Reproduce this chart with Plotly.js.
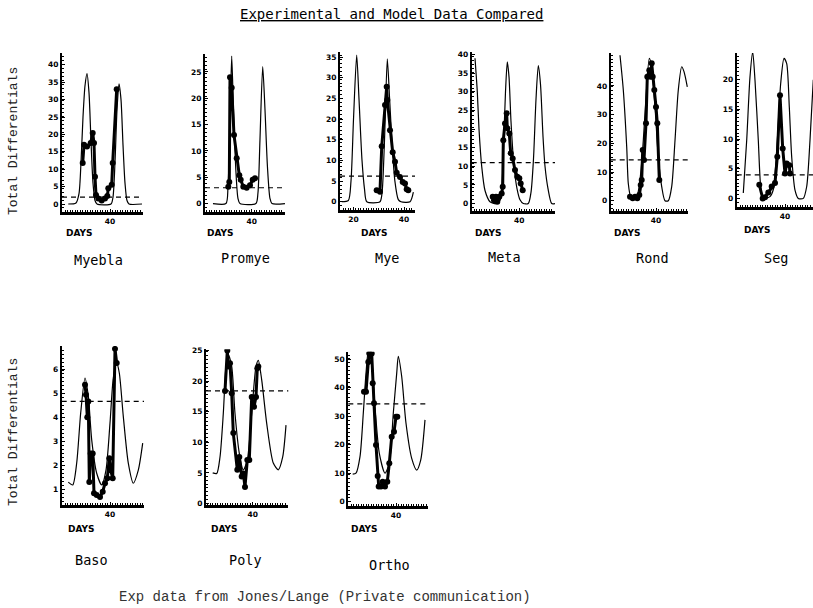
<!DOCTYPE html>
<html>
<head>
<meta charset="utf-8">
<script src="https://cdn.plot.ly/plotly-3.0.1.min.js"></script>
<style>html,body{margin:0;padding:0;background:#fff;}#chart{width:813px;height:608px;}</style>
</head>
<body>
<div id="chart"></div>
<script>
// ---------- DATA (days, value) ----------
const panelNames = ["Myebla", "Promye", "Mye", "Meta", "Rond", "Seg", "Baso", "Poly", "Ortho"];
const thresholds = [2.0, 3.0, 6.2, 11.0, 14.2, 3.95, 4.68, 18.4, 34.3];

const myeblaModelX = [23.3, 26.4, 27.6, 28.4, 29.2, 30.0, 30.8, 31.6, 32.4, 33.2, 34.0, 34.8, 40.4, 41.2, 42.0, 42.8, 43.6, 44.4, 45.2, 46.0, 46.8, 47.6, 52.8];
const myeblaModelY = [0, 0.3, 3, 12, 25, 34, 37.5, 32, 18, 6, 1, 0, 0, 2, 12, 27, 34.5, 30, 17, 6, 1, 0, 0];
const myeblaDataX = [29.08, 29.6, 30.8, 32.28, 33.08, 33.6, 34.0, 34.4, 35.32, 36.68, 38.0, 38.92, 39.32, 40.68, 41.08, 42.68];
const myeblaDataY = [11.8, 17, 16.5, 17.5, 20.4, 17.5, 7.8, 2.6, 1.6, 1, 1.6, 2.3, 4.5, 5.5, 11.8, 33];

const promyeModelX = [24.5, 29.7, 30.5, 31.3, 32.0, 32.7, 33.7, 34.5, 35.3, 41.7, 42.5, 43.3, 44.4, 45.3, 46.3, 47.3, 48.1, 53.3];
const promyeModelY = [0, 0, 3, 15, 28, 18, 6, 1, 0, 0, 2, 12, 26, 18, 7, 1, 0, 0];
const promyeDataX = [30.64, 31.04, 31.32, 32.0, 32.92, 34.0, 35.04, 35.6, 36.64, 38.0, 39.32, 40.4, 41.32];
const promyeDataY = [3.2, 4.1, 24, 22, 13, 8.6, 5.4, 4.5, 3.2, 3, 3.5, 4.5, 4.8];

const myeModelX = [15.4, 18.0, 19.05, 20.04, 21.3, 22.2, 23.4, 24.4, 25.3, 30.5, 31.3, 32.3, 33.4, 34.3, 35.3, 36.4, 37.75, 38.8, 42.4, 43.7];
const myeModelY = [0, 0.3, 5, 20, 35.5, 25, 10, 3, 0, 0, 2, 15, 34.6, 25, 14, 5, 0.5, 0, 0, 2.3];
const myeDataX = [29.2, 30.5, 31.2, 32.5, 33.16, 33.4, 34.47, 35.53, 36.44, 37.11, 38.42, 39.49, 40.4, 41.07, 41.7];
const myeDataY = [2.8, 2.4, 13.4, 23.4, 27.8, 24.6, 17.3, 12, 9.7, 7, 6, 4.8, 4.4, 3, 2.8];

const metaModelX = [22.28, 23.2, 23.88, 24.96, 26.28, 28.28, 30.68, 32.28, 33.08, 33.68, 34.48, 35.2, 35.88, 36.68, 37.88, 39.08, 40.28, 41.6, 43.6, 44.68, 45.68, 46.68, 47.6, 48.48, 49.48, 50.28, 51.48, 52.96, 54.28];
const metaModelY = [39, 30, 20, 10, 3.5, 0.5, 0, 0.8, 5, 15, 30, 38, 34, 22, 10, 4, 1, 0, 0, 3, 12, 28, 37, 32, 18, 10, 4, 0, 0];
const metaDataX = [29.36, 29.88, 30.68, 31.2, 32.0, 32.96, 33.36, 33.6, 34.28, 34.96, 35.2, 36.0, 36.56, 37.36, 38.28, 39.2, 40.0, 40.56, 41.36];
const metaDataY = [1.8, 0.9, 1.8, 0.5, 1.8, 2.7, 4.5, 17, 21.5, 24.2, 20.2, 18.8, 13.5, 12.1, 9, 7.2, 6.8, 5.4, 3.6];

const rondModelX = [25.6, 26.92, 28.28, 28.92, 29.88, 30.92, 32.52, 33.88, 34.92, 36.0, 37.32, 38.28, 39.6, 40.92, 42.28, 43.6, 44.92, 46.28, 47.6, 48.92, 50.28, 51.2, 52.52];
const rondModelY = [50.7, 38.6, 18.8, 6, 1.4, 0.8, 2, 9.5, 21, 36, 49.6, 46.7, 32.7, 15.3, 4.9, 0, 0, 4.9, 21, 38.6, 46.7, 45, 39.7];
const rondDataX = [29.6, 30.68, 31.6, 32.52, 33.32, 33.88, 34.28, 34.68, 35.2, 36.0, 36.52, 37.32, 37.88, 38.28, 38.68, 39.32, 40.0, 40.52, 41.32];
const rondDataY = [1.4, 0.8, 1.4, 0.8, 2, 5.5, 7.2, 17.7, 14.2, 27, 43.2, 45.5, 43.2, 47.9, 43.2, 38.6, 32.7, 27, 7.2];

const segModelX = [23.32, 24.68, 26.0, 27.08, 28.0, 29.32, 30.28, 31.32, 34.0, 35.32, 36.92, 38.28, 39.6, 40.68, 41.72, 42.68, 44.0, 45.32, 47.32, 48.68, 50.0, 51.32];
const segModelY = [0.9, 9.8, 20.5, 24.7, 19.9, 9.8, 2, 0, 0.3, 1.5, 9.8, 19.4, 23.6, 22.7, 15.4, 7, 1.4, 0, 0, 2, 9.8, 20];
const segDataX = [29.72, 31.08, 32.0, 33.32, 34.68, 36.0, 36.92, 38.0, 39.08, 40.0, 40.68, 41.72, 42.0];
const segDataY = [2.3, 0, 0.2, 1, 2, 2.6, 7, 17.4, 8.4, 4.2, 5.9, 5.6, 4.2];

const basoModelX = [23.32, 25.08, 26.68, 28.28, 30.0, 31.32, 32.68, 34.68, 36.68, 38.4, 40.0, 41.32, 42.68, 43.72, 45.32, 47.32, 49.32, 51.32, 53.08];
const basoModelY = [1.3, 1.18, 2.1, 4.2, 5.66, 4.9, 3.07, 1.67, 1.18, 1.8, 3.77, 5.66, 6.29, 5.87, 4.05, 2.09, 1.25, 1.8, 2.93];
const basoDataX = [30.0, 30.4, 30.92, 31.32, 31.72, 32.28, 33.08, 33.6, 34.68, 36.0, 37.08, 38.0, 38.92, 39.72, 40.28, 41.08, 42.0, 42.68];
const basoDataY = [5.38, 4.96, 4.02, 4.68, 1.3, 2.5, 2.5, 0.83, 0.76, 0.68, 0.9, 1.25, 1.46, 2.3, 1.8, 1.46, 6.88, 6.29];

const polyModelX = [24.0, 25.6, 26.92, 28.24, 29.32, 30.24, 31.6, 32.92, 34.64, 36.24, 37.84, 39.6, 41.32, 42.24, 43.6, 45.6, 48.24, 50.24, 52.0, 53.32];
const polyModelY = [5.0, 4.9, 7.6, 14.7, 22.4, 24.3, 22.4, 14.7, 8.2, 5.5, 7.1, 14.7, 22.4, 23.4, 20.2, 13.1, 6.6, 5.5, 7.6, 12.8];
const polyDataX = [28.92, 29.84, 30.24, 30.92, 31.6, 32.24, 33.84, 34.64, 35.6, 36.24, 36.92, 37.84, 38.64, 39.6, 40.52, 41.32, 41.84, 42.24];
const polyDataY = [18.4, 25, 22.4, 22.9, 18, 11.5, 5.5, 7.6, 4.4, 4.9, 2.7, 7.1, 7.1, 17.4, 15.8, 17.4, 22.1, 22.4];

const orthoModelX = [22.68, 24.0, 25.6, 26.92, 28.0, 28.92, 30.28, 31.6, 33.32, 35.6, 37.32, 38.92, 40.28, 40.92, 42.28, 44.0, 46.28, 48.28, 49.88, 51.6];
const orthoModelY = [9.7, 10, 15.8, 31, 45, 52.6, 48.6, 33.3, 17, 10, 13.5, 31, 45, 51, 43.9, 27.5, 15.2, 11.1, 14.6, 28.7];
const orthoDataX = [27.2, 28.0, 28.92, 29.32, 30.28, 30.68, 31.2, 32.0, 32.68, 33.08, 34.0, 34.68, 35.6, 36.52, 37.32, 38.28, 39.2, 40.0, 40.52];
const orthoDataY = [38.6, 38.6, 49, 52, 52, 41.5, 34.5, 19.9, 9, 5.3, 5.3, 7, 5.3, 7, 13.5, 22.8, 24.5, 29.8, 29.8];

const yTickVals = [
  [0, 5, 10, 15, 20, 25, 30, 35, 40],
  [0, 5, 10, 15, 20, 25],
  [0, 5, 10, 15, 20, 25, 30, 35],
  [0, 5, 10, 15, 20, 25, 30, 35, 40],
  [0, 10, 20, 30, 40],
  [0, 5, 10, 15, 20],
  [1, 2, 3, 4, 5, 6],
  [0, 5, 10, 15, 20, 25],
  [0, 10, 20, 30, 40, 50]
];
const xTickVals = [[40], [40], [20, 40], [40], [40], [40], [40], [40], [40]];

const modelX = [myeblaModelX, promyeModelX, myeModelX, metaModelX, rondModelX, segModelX, basoModelX, polyModelX, orthoModelX];
const modelY = [myeblaModelY, promyeModelY, myeModelY, metaModelY, rondModelY, segModelY, basoModelY, polyModelY, orthoModelY];
const dataX = [myeblaDataX, promyeDataX, myeDataX, metaDataX, rondDataX, segDataX, basoDataX, polyDataX, orthoDataX];
const dataY = [myeblaDataY, promyeDataY, myeDataY, metaDataY, rondDataY, segDataY, basoDataY, polyDataY, orthoDataY];

// ---------- LAYOUT GEOMETRY (pixels) ----------
const W = 813, H = 608;
// [left, right, top, bottom] of each plot box
const boxes = [
  [62, 143, 53, 212], [205, 285, 54, 212], [340, 415, 51.7, 210],
  [471.7, 555, 51.7, 211], [610.7, 688.3, 53.3, 210.7], [736.7, 813, 53, 206.7],
  [61.7, 144, 346, 505], [206, 288.3, 349.3, 505], [348.3, 428.3, 351.7, 506]
];
const xRanges = [[20.8, 53.2], [21.32, 53.32], [14.7, 44.35], [20.96, 54.28], [21.88, 52.92], [20.68, 51.2], [20.68, 53.6], [21.32, 54.24], [20.92, 52.92]];
const yRanges = [[-2.3, 43.4], [-1.6, 28.4], [-2.0, 36.3], [-2.0, 40.75], [-3.5, 51.4], [-1.4, 24.5], [0.34, 7.0], [-0.25, 25.2], [-1.5, 52.6]];
const daysPos = [[79, 233], [221, 233], [374, 233], [489, 233], [627, 233], [757, 230], [81, 529], [224, 529], [364, 529]];
const namePos = [[98, 260], [245, 258], [387, 258], [504, 257], [652, 258], [776, 258], [91, 560], [245, 560], [389, 565]];

const traces = [];
const layout = {
  width: W, height: H,
  margin: {l: 0, r: 0, t: 0, b: 0},
  paper_bgcolor: '#fff', plot_bgcolor: 'rgba(0,0,0,0)',
  showlegend: false,
  shapes: [], annotations: []
};

const tickFont = {family: 'DejaVu Sans', size: 7.5, color: '#000', weight: 'bold'};

for (let i = 0; i < 9; i++) {
  const n = i + 1;
  const xa = 'x' + (n === 1 ? '' : n), ya = 'y' + (n === 1 ? '' : n);
  const b = boxes[i];
  layout['xaxis' + (n === 1 ? '' : n)] = {
    domain: [b[0] / W, b[1] / W], range: xRanges[i], anchor: ya,
    showgrid: false, zeroline: false, showline: true, linecolor: '#000', linewidth: 3,
    tickmode: 'array', tickvals: xTickVals[i], ticks: 'inside', ticklen: 3, tickcolor: '#000',
    tickfont: tickFont, ticklabelstandoff: 0,
    minor: {ticks: 'inside', ticklen: 2, tickmode: 'linear', tick0: 0, dtick: 1, tickcolor: '#000'},
    fixedrange: true
  };
  layout['yaxis' + (n === 1 ? '' : n)] = {
    domain: [1 - b[3] / H, 1 - b[2] / H], range: yRanges[i], anchor: xa,
    showgrid: false, zeroline: false, showline: true, linecolor: '#000', linewidth: 2,
    tickmode: 'array', tickvals: yTickVals[i], ticks: 'inside', ticklen: 3, tickcolor: '#000',
    tickfont: tickFont, ticklabelstandoff: 0,
    minor: {ticks: 'inside', ticklen: 2, tickmode: 'linear', tick0: 0, dtick: (yRanges[i][1] - yRanges[i][0]) / 40, tickcolor: '#000'},
    fixedrange: true
  };
  traces.push({
    x: modelX[i], y: modelY[i], xaxis: xa, yaxis: ya, type: 'scatter', mode: 'lines',
    line: {color: '#000', width: 1.2, shape: 'spline', smoothing: 0.7}, hoverinfo: 'skip'
  });
  traces.push({
    x: dataX[i], y: dataY[i], xaxis: xa, yaxis: ya, type: 'scatter', mode: 'lines+markers',
    line: {color: '#000', width: 3}, marker: {color: '#000', size: 6}, hoverinfo: 'skip'
  });
  layout.shapes.push({
    type: 'line', xref: xa + ' domain', yref: ya, x0: 0, x1: 1, y0: thresholds[i], y1: thresholds[i],
    line: {color: '#000', width: 1.2, dash: '5px,4px'}
  });
  layout.annotations.push({
    text: 'DAYS', xref: 'paper', yref: 'paper', x: daysPos[i][0] / W, y: 1 - daysPos[i][1] / H,
    xanchor: 'center', yanchor: 'middle', showarrow: false,
    font: {family: 'DejaVu Sans', size: 9, color: '#000', weight: 'bold'}
  });
  layout.annotations.push({
    text: panelNames[i], xref: 'paper', yref: 'paper', x: namePos[i][0] / W, y: 1 - namePos[i][1] / H,
    xanchor: 'center', yanchor: 'middle', showarrow: false,
    font: {family: 'DejaVu Sans Mono', size: 13.5, color: '#000'}
  });
}

layout.annotations.push({
  text: '<span style="text-decoration:underline">Experimental and Model Data Compared</span>',
  xref: 'paper', yref: 'paper', x: 391 / W, y: 1 - 14 / H, xanchor: 'center', yanchor: 'middle',
  showarrow: false, font: {family: 'DejaVu Sans Mono', size: 14, color: '#000'}
});
[[13, 141], [13, 432]].forEach(p => layout.annotations.push({
  text: 'Total Differentials', xref: 'paper', yref: 'paper', x: p[0] / W, y: 1 - p[1] / H,
  xanchor: 'center', yanchor: 'middle', textangle: -90, showarrow: false,
  font: {family: 'Liberation Mono', size: 13, color: '#222'}
}));
layout.annotations.push({
  text: 'Exp data from Jones/Lange (Private communication)',
  xref: 'paper', yref: 'paper', x: 325 / W, y: 1 - 597 / H, xanchor: 'center', yanchor: 'middle',
  showarrow: false, font: {family: 'Liberation Mono', size: 14, color: '#333'}
});

Plotly.newPlot('chart', traces, layout, {staticPlot: true, displayModeBar: false});
</script>
</body>
</html>
